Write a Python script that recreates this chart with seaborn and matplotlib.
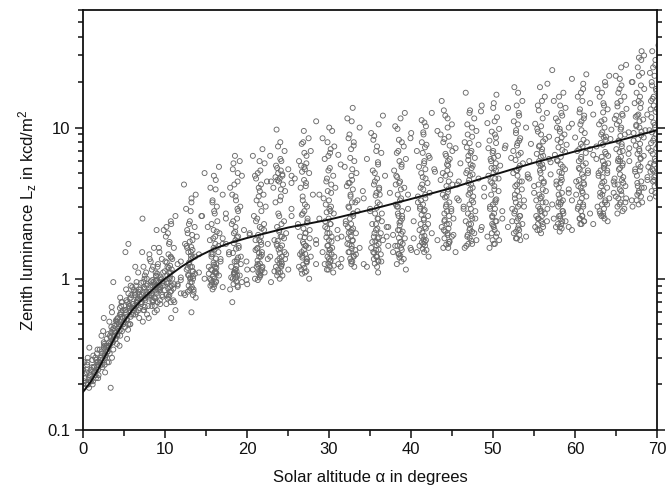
import matplotlib
matplotlib.use("Agg")
import matplotlib.pyplot as plt
import numpy as np
import pandas as pd
import seaborn as sns
from matplotlib.ticker import LogLocator, NullFormatter, FixedLocator, MultipleLocator, FixedFormatter

# ---- fitted curve ----
curve_alt = [0, 1, 2, 3, 4, 5, 6, 7, 8, 9, 10, 12, 14, 16, 18, 20, 25, 30, 35, 40, 45, 50, 55, 60, 65, 70]
curve_lum = [0.178, 0.21, 0.26, 0.33, 0.42, 0.52, 0.62, 0.71, 0.80, 0.90, 1.0, 1.2, 1.4, 1.58, 1.73, 1.86,
             2.18, 2.46, 2.86, 3.37, 3.99, 4.85, 5.85, 6.95, 8.1, 9.6]

# ---- measured points, grouped by the vertical streaks visible in the picture ----
streak_alt = [0.5, 1.5, 2.5, 3.5, 4.5, 5.5, 6.5, 7.5, 8.5, 9.3,
              10.5, 13.1, 16.0, 18.6, 21.5, 24.0, 27.0, 30.0, 32.7, 35.8, 38.6, 41.5, 44.4, 47.2,
              50.1, 53.0, 55.8, 58.2, 60.8, 63.4, 65.5, 67.8, 69.6]
streak_width = [0.8] * 10 + [1.3] * 23
streak_lum = [
    [0.19, 0.2, 0.21, 0.22, 0.23, 0.24, 0.26, 0.28, 0.3, 0.21, 0.25, 0.19, 0.39, 0.27, 0.22, 0.2],
    [0.2, 0.22, 0.23, 0.25, 0.26, 0.28, 0.3, 0.32, 0.24, 0.27, 0.21, 0.29, 0.35, 0.25, 0.23, 0.31, 0.26, 0.28],
    [0.24, 0.26, 0.28, 0.3, 0.32, 0.34, 0.36, 0.38, 0.42, 0.29, 0.31, 0.33, 0.27, 0.35, 0.45, 0.19, 0.3, 0.37, 0.4, 0.28],
    [0.3, 0.32, 0.35, 0.38, 0.4, 0.42, 0.45, 0.48, 0.5, 0.36, 0.39, 0.44, 0.33, 0.47, 0.55, 0.65, 0.95, 0.41, 0.37, 0.52],
    [0.36, 0.4, 0.43, 0.46, 0.5, 0.53, 0.56, 0.6, 0.64, 0.7, 0.45, 0.48, 0.52, 0.58, 0.42, 0.62, 0.75, 0.55, 0.5, 0.66],
    [0.42, 0.46, 0.5, 0.54, 0.58, 0.62, 0.66, 0.7, 0.75, 0.8, 0.85, 0.55, 0.6, 0.64, 0.72, 0.9, 1.0, 1.2, 1.5, 0.68, 0.78, 0.52],
    [0.5, 0.55, 0.6, 0.64, 0.68, 0.72, 0.76, 0.8, 0.85, 0.9, 0.95, 0.62, 0.7, 0.78, 0.88, 1.1, 1.7, 0.66, 0.74, 0.82],
    [0.52, 0.58, 0.62, 0.66, 0.7, 0.75, 0.8, 0.85, 0.9, 0.95, 1.0, 1.1, 1.2, 1.35, 1.5, 0.72, 0.82, 0.92, 1.05, 2.5, 0.68, 0.78],
    [0.55, 0.6, 0.65, 0.7, 0.75, 0.8, 0.85, 0.9, 0.95, 1.0, 1.1, 1.2, 1.3, 1.45, 1.6, 2.1, 0.78, 0.88, 0.98, 0.72],
    [0.62, 0.68, 0.72, 0.78, 0.84, 0.9, 0.96, 1.02, 1.1, 1.2, 1.35, 1.6, 2.2, 0.8, 0.88, 0.94, 0.74],
    [0.55, 0.62, 0.68, 0.72, 0.76, 0.8, 0.84, 0.88, 0.92, 0.96, 1.0, 1.05, 1.1, 1.15, 1.2, 1.25, 1.3, 1.4, 1.5, 1.6,
     1.75, 1.9, 2.1, 2.3, 2.6, 0.78, 0.86, 0.94, 1.02, 1.12, 1.22, 0.7, 0.9, 1.35, 0.98],
    [0.6, 0.75, 0.8, 0.85, 0.9, 0.95, 1.0, 1.05, 1.1, 1.15, 1.2, 1.3, 1.4, 1.5, 1.6, 1.7, 1.8, 1.9, 2.0, 2.2, 2.4, 2.6,
     2.9, 3.2, 3.6, 4.2, 0.82, 0.92, 1.02, 1.12, 1.25, 1.45, 1.65, 0.88, 0.98, 1.08, 1.35, 2.1, 0.78, 1.55],
    [0.85, 0.88, 0.9, 0.95, 1.0, 1.05, 1.1, 1.15, 1.2, 1.25, 1.3, 1.4, 1.5, 1.6, 1.7, 1.8, 1.9, 2.0, 2.2, 2.4, 2.6, 2.8,
     3.0, 3.3, 3.6, 4.0, 4.5, 5.0, 5.5, 0.92, 0.98, 1.08, 1.18, 1.35, 1.45, 1.65, 2.1, 2.5, 1.0, 1.12],
    [0.7, 0.85, 0.9, 0.95, 1.0, 1.05, 1.1, 1.15, 1.2, 1.3, 1.4, 1.5, 1.6, 1.7, 1.8, 1.9, 2.0, 2.1, 2.3, 2.5, 2.7, 3.0,
     3.3, 3.6, 4.0, 4.4, 4.8, 5.3, 6.0, 6.5, 0.92, 1.02, 1.12, 1.25, 1.45, 1.65, 1.85, 2.2, 2.8, 1.08],
    [0.95, 1.0, 1.05, 1.1, 1.15, 1.2, 1.3, 1.4, 1.5, 1.6, 1.7, 1.8, 1.9, 2.0, 2.1, 2.2, 2.4, 2.6, 2.8, 3.0, 3.3, 3.6,
     4.0, 4.4, 4.8, 5.2, 5.8, 6.5, 7.2, 0.98, 1.08, 1.18, 1.25, 1.35, 1.55, 1.75, 1.95, 2.3, 3.8, 4.6],
    [1.0, 1.05, 1.1, 1.15, 1.2, 1.3, 1.4, 1.5, 1.6, 1.7, 1.8, 1.9, 2.0, 2.2, 2.4, 2.6, 2.9, 3.2, 3.5, 3.8, 4.0, 4.2,
     4.4, 4.6, 4.8, 5.0, 5.3, 5.6, 6.0, 6.5, 7.0, 8.0, 9.7, 1.12, 1.25, 1.45, 1.65, 1.85, 2.1, 4.3, 4.7, 5.2, 1.35],
    [1.0, 1.1, 1.15, 1.2, 1.3, 1.4, 1.5, 1.6, 1.7, 1.8, 1.9, 2.0, 2.1, 2.2, 2.4, 2.6, 2.8, 3.0, 3.3, 3.6, 4.0, 4.3,
     4.6, 5.0, 5.3, 5.6, 6.0, 6.5, 7.0, 7.8, 8.5, 9.5, 1.25, 1.45, 1.65, 1.85, 2.3, 2.5, 4.8, 5.5, 1.35, 2.7],
    [1.1, 1.15, 1.2, 1.25, 1.3, 1.4, 1.5, 1.6, 1.7, 1.8, 1.9, 2.0, 2.1, 2.2, 2.3, 2.5, 2.7, 2.9, 3.1, 3.4, 3.7, 4.0,
     4.4, 4.8, 5.2, 5.7, 6.2, 6.8, 7.5, 8.5, 9.5, 11.0, 1.35, 1.45, 1.65, 1.85, 2.4, 2.8, 3.6, 1.22, 1.55],
    [1.2, 1.25, 1.3, 1.4, 1.5, 1.6, 1.7, 1.8, 1.9, 2.0, 2.1, 2.2, 2.4, 2.6, 2.8, 3.0, 3.2, 3.5, 3.8, 4.1, 4.5, 5.0,
     5.5, 6.0, 6.6, 7.2, 8.0, 9.0, 10.0, 11.5, 13.5, 1.35, 1.45, 1.65, 1.85, 2.3, 2.7, 3.3, 4.3, 1.55, 2.05],
    [1.1, 1.2, 1.3, 1.4, 1.5, 1.6, 1.7, 1.8, 1.9, 2.0, 2.1, 2.2, 2.3, 2.5, 2.7, 2.9, 3.1, 3.4, 3.7, 4.0, 4.4, 4.8,
     5.2, 5.7, 6.2, 6.8, 7.5, 8.3, 9.2, 10.5, 12.0, 1.35, 1.45, 1.55, 1.65, 1.75, 1.85, 2.4, 2.8, 3.6, 1.25],
    [1.15, 1.25, 1.35, 1.45, 1.55, 1.65, 1.75, 1.85, 1.95, 2.05, 2.2, 2.35, 2.5, 2.7, 2.9, 3.1, 3.4, 3.7, 4.0, 4.4,
     4.8, 5.2, 5.7, 6.2, 6.8, 7.5, 8.3, 9.2, 10.2, 11.5, 12.5, 1.5, 1.7, 1.9, 2.1, 2.6, 3.0, 3.6, 4.2, 1.6],
    [1.4, 1.5, 1.55, 1.6, 1.7, 1.8, 1.9, 2.0, 2.1, 2.2, 2.4, 2.6, 2.8, 3.0, 3.2, 3.4, 3.7, 4.0, 4.3, 4.7, 5.1, 5.5,
     6.0, 6.5, 7.0, 7.7, 8.5, 9.3, 10.2, 11.2, 12.5, 1.65, 1.75, 1.85, 2.3, 2.5, 2.9, 3.5, 5.3, 6.3],
    [1.5, 1.6, 1.7, 1.8, 1.9, 2.0, 2.1, 2.2, 2.3, 2.5, 2.7, 2.9, 3.1, 3.3, 3.6, 3.9, 4.2, 4.5, 4.9, 5.3, 5.7, 6.2,
     6.7, 7.3, 8.0, 8.7, 9.5, 10.5, 11.5, 13.0, 15.0, 1.75, 1.95, 2.4, 2.8, 3.5, 4.4, 5.0, 6.0, 7.0, 9.0],
    [1.6, 1.7, 1.8, 1.9, 2.0, 2.1, 2.2, 2.4, 2.6, 2.8, 3.0, 3.2, 3.4, 3.7, 4.0, 4.3, 4.6, 5.0, 5.4, 5.8, 6.3, 6.8,
     7.4, 8.0, 8.7, 9.5, 10.5, 11.5, 12.5, 14.0, 17.0, 2.3, 2.5, 2.9, 3.5, 4.2, 4.8, 5.6, 6.5, 7.7, 1.65],
    [1.6, 1.7, 1.8, 1.9, 2.0, 2.1, 2.2, 2.4, 2.6, 2.8, 3.0, 3.2, 3.5, 3.8, 4.1, 4.4, 4.8, 5.2, 5.6, 6.0, 6.5, 7.0,
     7.6, 8.2, 9.0, 9.8, 10.7, 11.7, 12.8, 14.5, 16.5, 2.3, 2.5, 2.9, 3.3, 4.0, 4.6, 5.4, 6.2, 7.3, 8.6],
    [1.8, 1.85, 1.9, 2.0, 2.1, 2.2, 2.3, 2.5, 2.7, 2.9, 3.1, 3.3, 3.6, 3.9, 4.2, 4.6, 5.0, 5.4, 5.8, 6.3, 6.8, 7.3,
     7.9, 8.5, 9.2, 10.0, 11.0, 12.0, 13.5, 15.0, 17.0, 18.5, 2.4, 2.6, 3.0, 3.4, 4.4, 5.2, 6.0, 7.0],
    [2.0, 2.1, 2.2, 2.3, 2.4, 2.5, 2.7, 2.9, 3.1, 3.3, 3.5, 3.8, 4.1, 4.4, 4.7, 5.0, 5.4, 5.8, 6.2, 6.7, 7.2, 7.8,
     8.4, 9.0, 9.8, 10.6, 11.5, 12.5, 14.0, 16.0, 18.5, 24.0, 2.6, 2.8, 3.2, 3.7, 4.3, 4.9, 5.6, 6.5, 7.5, 8.7],
    [2.05, 2.1, 2.2, 2.3, 2.4, 2.5, 2.7, 2.9, 3.1, 3.3, 3.6, 3.9, 4.2, 4.5, 4.9, 5.3, 5.7, 6.1, 6.6, 7.1, 7.7, 8.3,
     9.0, 9.8, 10.6, 11.5, 12.5, 13.5, 15.0, 17.0, 19.5, 2.6, 2.8, 3.2, 3.7, 4.4, 5.0, 5.9, 6.9, 8.0, 10.0],
    [2.2, 2.3, 2.4, 2.5, 2.7, 2.9, 3.1, 3.3, 3.5, 3.8, 4.1, 4.4, 4.7, 5.0, 5.4, 5.8, 6.2, 6.6, 7.0, 7.5, 8.0, 8.6,
     9.2, 10.0, 11.0, 12.0, 13.2, 14.5, 16.0, 18.0, 21.0, 22.5, 2.6, 3.0, 3.6, 4.3, 5.2, 6.0, 6.8, 7.8],
    [2.3, 2.4, 2.6, 2.8, 3.0, 3.2, 3.4, 3.7, 4.0, 4.3, 4.6, 5.0, 5.4, 5.8, 6.2, 6.7, 7.2, 7.7, 8.3, 9.0, 9.7, 10.5,
     11.3, 12.2, 13.2, 14.5, 16.0, 18.0, 20.0, 22.0, 2.7, 3.1, 3.6, 4.2, 4.8, 5.6, 6.5, 7.5, 8.7],
    [2.7, 2.9, 3.1, 3.3, 3.5, 3.8, 4.1, 4.4, 4.7, 5.0, 5.4, 5.8, 6.2, 6.7, 7.2, 7.8, 8.4, 9.0, 9.7, 10.5, 11.4, 12.3,
     13.3, 14.5, 16.0, 18.0, 20.0, 22.0, 25.0, 3.2, 3.7, 4.3, 5.2, 6.0, 7.0, 8.1, 9.3, 12.0],
    [3.0, 3.2, 3.4, 3.7, 4.0, 4.3, 4.7, 5.1, 5.5, 6.0, 6.5, 7.0, 7.6, 8.2, 8.9, 9.6, 10.4, 11.3, 12.2, 13.2, 14.5,
     16.0, 18.0, 20.0, 23.0, 26.0, 29.0, 32.0, 3.6, 4.5, 5.3, 6.3, 7.3, 8.6, 10.0, 11.8, 9.2],
    [3.4, 3.7, 4.0, 4.3, 4.7, 5.1, 5.5, 6.0, 6.5, 7.0, 7.6, 8.2, 8.9, 9.6, 10.4, 11.3, 12.2, 13.3, 14.5, 16.0, 17.5,
     19.0, 21.0, 23.0, 26.0, 30.0, 35.0, 4.5, 5.8, 7.3, 9.0, 11.0, 15.0, 4.2, 5.2],
]
# second reading of the denser cores of the same streaks
streak_lum_core = [
    [0.2, 0.22, 0.24, 0.25, 0.21, 0.23],
    [0.22, 0.24, 0.26, 0.27, 0.29, 0.25, 0.23, 0.28],
    [0.27, 0.29, 0.31, 0.33, 0.35, 0.3, 0.32, 0.28, 0.34, 0.36],
    [0.34, 0.37, 0.4, 0.43, 0.46, 0.38, 0.41, 0.44, 0.36, 0.49],
    [0.42, 0.45, 0.48, 0.52, 0.55, 0.58, 0.47, 0.5, 0.54, 0.6],
    [0.5, 0.54, 0.58, 0.62, 0.66, 0.7, 0.56, 0.6, 0.64, 0.74],
    [0.58, 0.62, 0.66, 0.7, 0.74, 0.78, 0.64, 0.68, 0.72, 0.84],
    [0.62, 0.66, 0.7, 0.74, 0.78, 0.82, 0.88, 0.94, 0.76, 0.86],
    [0.66, 0.72, 0.78, 0.84, 0.9, 0.96, 1.04, 0.82, 0.92, 1.15],
    [0.7, 0.76, 0.82, 0.88, 0.94, 1.0, 1.08, 0.86, 0.98, 1.25],
    [0.7, 0.74, 0.78, 0.82, 0.86, 0.9, 0.95, 1.0, 1.05, 1.1, 1.18, 1.28, 1.38, 1.7, 2.0, 0.83, 0.93, 1.03, 1.45, 2.4],
    [0.78, 0.82, 0.86, 0.9, 0.95, 1.0, 1.06, 1.12, 1.2, 1.28, 1.38, 1.5, 1.62, 1.76, 1.95, 2.3, 2.8, 3.4, 0.84, 1.04,
     1.18, 1.42],
    [0.88, 0.92, 0.96, 1.0, 1.04, 1.08, 1.14, 1.2, 1.28, 1.36, 1.46, 1.56, 1.7, 1.85, 2.05, 2.3, 2.7, 3.2, 3.9, 4.8,
     0.95, 1.1, 1.24],
    [0.88, 0.92, 0.96, 1.0, 1.05, 1.1, 1.16, 1.22, 1.3, 1.38, 1.48, 1.58, 1.72, 1.88, 2.05, 2.4, 2.9, 3.5, 4.2, 5.0,
     5.8, 1.02, 1.14, 1.34],
    [0.98, 1.02, 1.06, 1.1, 1.14, 1.2, 1.26, 1.32, 1.4, 1.48, 1.58, 1.68, 1.8, 1.95, 2.15, 2.5, 3.1, 3.5, 4.2, 5.0,
     6.0, 1.12, 1.22, 1.44],
    [1.05, 1.1, 1.15, 1.2, 1.26, 1.32, 1.4, 1.48, 1.56, 1.66, 1.78, 1.9, 2.05, 2.3, 2.7, 3.3, 3.9, 4.4, 4.9, 5.4, 6.2,
     7.5, 1.22, 1.36, 4.5],
    [1.08, 1.12, 1.18, 1.24, 1.3, 1.38, 1.46, 1.55, 1.65, 1.75, 1.88, 2.0, 2.15, 2.35, 2.65, 3.1, 3.5, 4.1, 4.5, 5.1,
     5.8, 6.8, 8.0, 1.28, 1.42],
    [1.15, 1.2, 1.26, 1.32, 1.4, 1.48, 1.56, 1.66, 1.76, 1.88, 2.0, 2.15, 2.3, 2.5, 2.75, 3.0, 3.3, 3.8, 4.2, 4.6,
     5.4, 6.5, 7.2, 8.0, 10.0],
    [1.25, 1.3, 1.36, 1.42, 1.5, 1.58, 1.68, 1.78, 1.9, 2.02, 2.15, 2.3, 2.5, 2.7, 2.95, 3.2, 3.6, 3.9, 4.3, 4.8,
     5.3, 6.3, 7.6, 8.5, 11.0],
    [1.2, 1.26, 1.32, 1.4, 1.48, 1.56, 1.66, 1.76, 1.88, 2.0, 2.15, 2.3, 2.5, 2.7, 2.95, 3.2, 3.55, 3.9, 4.2, 4.6,
     5.0, 5.9, 7.0, 8.8, 1.3],
    [1.3, 1.38, 1.46, 1.55, 1.65, 1.75, 1.86, 1.98, 2.1, 2.25, 2.4, 2.6, 2.8, 3.0, 3.3, 3.6, 3.9, 4.3, 4.7, 5.5,
     6.0, 7.0, 8.0, 9.8, 1.42],
    [1.5, 1.58, 1.66, 1.74, 1.82, 1.92, 2.02, 2.15, 2.3, 2.45, 2.65, 2.85, 3.1, 3.3, 3.6, 3.9, 4.2, 4.6, 5.0, 5.8,
     6.8, 7.4, 8.0, 9.0, 10.8],
    [1.6, 1.68, 1.76, 1.85, 1.95, 2.05, 2.15, 2.3, 2.45, 2.6, 2.8, 3.0, 3.2, 3.45, 3.75, 4.1, 4.4, 4.8, 5.2, 5.6,
     6.5, 7.6, 8.4, 10.0, 12.0],
    [1.7, 1.78, 1.86, 1.95, 2.05, 2.15, 2.3, 2.5, 2.7, 2.9, 3.1, 3.3, 3.6, 3.9, 4.2, 4.5, 4.9, 5.2, 5.7, 6.1, 7.0,
     7.9, 9.0, 10.0, 13.0],
    [1.7, 1.8, 1.9, 2.0, 2.1, 2.25, 2.4, 2.55, 2.7, 2.9, 3.1, 3.35, 3.6, 3.9, 4.3, 4.6, 5.0, 5.4, 5.8, 6.3, 6.8,
     7.9, 9.4, 11.0, 13.5],
    [1.85, 1.95, 2.05, 2.15, 2.25, 2.4, 2.6, 2.8, 3.0, 3.2, 3.5, 3.8, 4.1, 4.4, 4.8, 5.2, 5.6, 6.1, 6.6, 7.6, 8.2,
     9.6, 10.5, 12.5, 14.0],
    [2.1, 2.2, 2.3, 2.4, 2.5, 2.6, 2.8, 3.0, 3.2, 3.4, 3.6, 3.9, 4.2, 4.6, 5.2, 5.7, 6.0, 6.4, 6.9, 7.6, 8.1, 9.4,
     10.2, 13.0, 15.0],
    [2.15, 2.2, 2.3, 2.4, 2.5, 2.6, 2.8, 3.0, 3.2, 3.4, 3.7, 4.0, 4.3, 4.7, 5.1, 5.5, 6.0, 6.4, 7.4, 8.6, 9.4, 11.0,
     12.0, 14.0, 16.0],
    [2.3, 2.4, 2.5, 2.6, 2.8, 3.0, 3.2, 3.4, 3.7, 4.0, 4.2, 4.5, 4.9, 5.3, 5.6, 6.4, 7.2, 8.3, 9.6, 10.5, 11.5,
     12.6, 15.0, 17.0, 19.5],
    [2.5, 2.6, 2.7, 2.9, 3.1, 3.3, 3.5, 3.8, 4.1, 4.4, 4.7, 5.2, 5.7, 6.0, 6.4, 6.9, 7.9, 8.6, 9.3, 10.0, 11.0,
     12.6, 14.0, 17.0, 19.0],
    [2.8, 3.0, 3.2, 3.4, 3.6, 3.9, 4.2, 4.5, 4.9, 5.3, 5.6, 6.0, 6.4, 6.9, 7.5, 8.2, 8.8, 10.0, 11.0, 12.0, 13.8,
     15.0, 17.0, 19.0, 21.0],
    [3.1, 3.3, 3.5, 3.8, 4.1, 4.4, 4.8, 5.2, 5.7, 6.2, 6.7, 7.2, 7.8, 8.4, 9.4, 10.2, 11.0, 12.0, 13.5, 15.0, 17.0,
     19.0, 22.0, 25.0, 28.0],
    [3.5, 3.8, 4.1, 4.4, 4.8, 5.3, 5.7, 6.2, 6.7, 7.3, 7.9, 8.5, 9.3, 10.0, 10.8, 11.7, 12.7, 14.0, 15.5, 18.0,
     20.0, 22.0, 25.0, 28.0, 32.0],
]
# horizontal spread of the points inside a streak (degrees)
streak_offsets = [-0.5, 0.2, 0.6, -0.25, 0.4, -0.05, 1.1, -0.4, 0.1, 0.5, -0.6, 0.3, -1.2, 0.0,
                  0.25, -0.15, 0.8, -0.35, 0.15, -0.9, 0.45, 0.05, -0.3]
core_offsets = [0.1, -0.3, 0.25, -0.05, -0.4, 0.35, 0.0, -0.2, 0.4, -0.35, 0.15, -0.1, 0.3, -0.25,
                0.05, 0.2, -0.15, 0.45, -0.45]

xs, ys = [], []
for k, (c, w, vals) in enumerate(zip(streak_alt, streak_width, streak_lum)):
    for i, v in enumerate(vals):
        xs.append(c + streak_offsets[(i + 7 * k) % len(streak_offsets)] * w)
        ys.append(v)
for k, (c, w, vals) in enumerate(zip(streak_alt, streak_width, streak_lum_core)):
    for i, v in enumerate(vals):
        xs.append(c + core_offsets[(i + 5 * k) % len(core_offsets)] * (1.0 if k < 10 else 0.7))
        ys.append(v)
pts = pd.DataFrame({"alt": xs, "lum": ys})
curve = pd.DataFrame({"alt": curve_alt, "lum": curve_lum})

sns.set_style("ticks")
plt.rcParams["font.family"] = ["Liberation Sans", "DejaVu Sans"]
plt.rcParams["mathtext.fontset"] = "custom"
plt.rcParams["mathtext.rm"] = "Liberation Sans"
plt.rcParams["mathtext.it"] = "Liberation Sans:italic"

fig = plt.figure(figsize=(6.69, 4.97), dpi=100)
ax = fig.add_axes([0.124, 0.135, 0.858, 0.845])

sns.scatterplot(data=pts, x="alt", y="lum", ax=ax, marker="o", s=13,
                fc="none", ec="#6a6a6a", linewidth=0.65, legend=False, zorder=2)
sns.lineplot(data=curve, x="alt", y="lum", ax=ax, color="#111111", linewidth=1.4,
             estimator=None, sort=True, zorder=3)

ax.set_yscale("log")
ax.set_xlim(0, 70)
ax.set_ylim(0.1, 60)
ax.xaxis.set_major_locator(MultipleLocator(10))
ax.xaxis.set_minor_locator(MultipleLocator(5))
ax.yaxis.set_major_locator(FixedLocator([0.1, 1, 10]))
ax.yaxis.set_major_formatter(FixedFormatter(["0.1", "1", "10"]))
ax.yaxis.set_minor_locator(LogLocator(base=10, subs=np.arange(2, 10)))
ax.yaxis.set_minor_formatter(NullFormatter())

for sp in ax.spines.values():
    sp.set_linewidth(1.3)
    sp.set_color("#111111")
ax.tick_params(which="both", direction="out", right=True, top=False, color="#111111",
               labelsize=12, labelcolor="#111111", width=1.1)
ax.tick_params(which="major", length=6, pad=3)
ax.tick_params(which="minor", length=3.5)
ax.tick_params(axis="x", which="minor", length=4)

ax.set_xlabel("Solar altitude α in degrees", fontsize=12, color="#111111", labelpad=9)
ax.set_ylabel(r"Zenith luminance L$_{\mathrm{z}}$ in kcd/m$^{\mathrm{2}}$", fontsize=12,
              color="#111111", labelpad=6)

fig.savefig("out.png", dpi=100)
